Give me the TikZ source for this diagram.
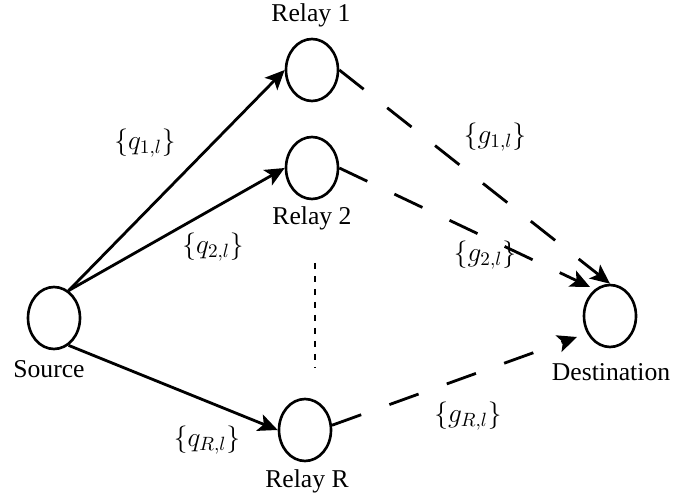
\RequirePackage{fix-cm}
\documentclass[tikz,border=0pt]{standalone}
\usepackage{fontspec}
\setmainfont{Liberation Serif}
\usetikzlibrary{arrows.meta,shapes.geometric}

\begin{document}
\begin{tikzpicture}[x=0.02cm,y=-0.02cm,
    station/.style={draw,ellipse,line width=1.5pt,minimum width=1.04cm,minimum height=1.24cm,inner sep=0pt},
    tag/.style={anchor=base,font=\fontsize{14.6}{17}\selectfont},
    gain/.style={font=\fontsize{15.6}{18}\selectfont},
    hop/.style={line width=1.6pt,-{Stealth[length=3.9mm,width=3.5mm,inset=0.9mm]}},
    relayhop/.style={hop,dash pattern=on 6.2mm off 6mm}]
    \useasboundingbox (0,0) rectangle (699,496);

    \node[station] (src) at (54,318) {};
    \node[station] (r1) at (312,70) {};
    \node[station] (r2) at (312,168) {};
    \node[station] (rR) at (305,430) {};
    \node[station] (dst) at (610,316) {};

    \node[tag] (srclab) at (49,377) {Source};
    \node[tag] (r1lab) at (311,22) {Relay 1};
    \node[tag] (r2lab) at (312,225) {Relay 2};
    \node[tag] (rRlab) at (307,487) {Relay R};
    \node[tag] (dstlab) at (611,380) {Destination};

    \coordinate (d2) at (590,287);
    \coordinate (dR) at (577,337);
    \coordinate (dtop) at (315,263);
    \coordinate (dbot) at (315,367);

    \draw[hop] (src.62) -- (r1.west);
    \draw[hop] (src.62) -- (r2.west);
    \draw[hop] (src.-62) -- (rR.west);

    \draw[relayhop] (r1.east) -- (dst.north);
    \draw[relayhop] (r2.east) -- (d2);
    \draw[relayhop] (rR.10) -- (dR);

    \draw[line width=1.6pt,dash pattern=on 1.2mm off 1.4mm] (dtop) -- (dbot);

    \node[gain] (q1) at (145,143) {$\{q_{1,l}\}$};
    \node[gain] (q2) at (213,247) {$\{q_{2,l}\}$};
    \node[gain] (qR) at (207,440) {$\{q_{R,l}\}$};
    \node[gain] (g1) at (495,137) {$\{g_{1,l}\}$};
    \node[gain] (g2) at (485,255) {$\{g_{2,l}\}$};
    \node[gain] (gR) at (468,416) {$\{g_{R,l}\}$};
\end{tikzpicture}
\end{document}
